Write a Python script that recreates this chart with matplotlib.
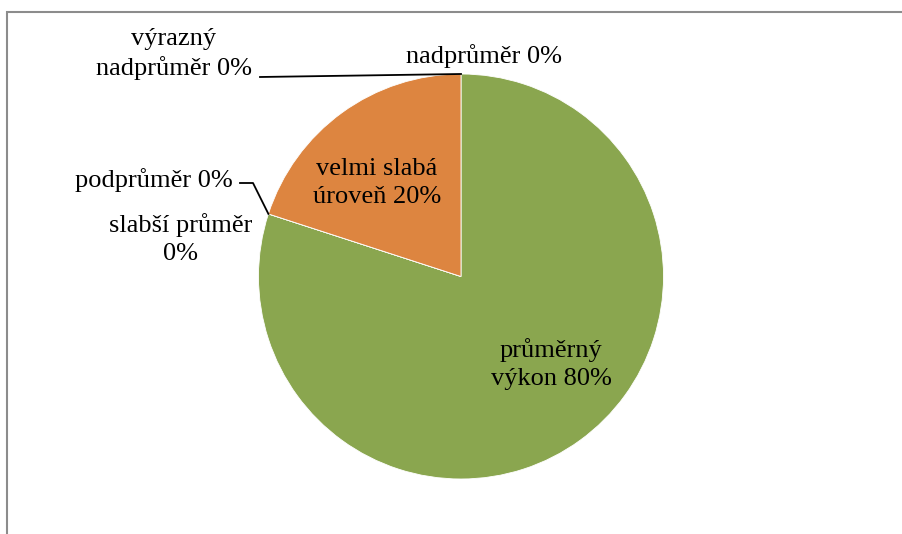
import numpy as np
import matplotlib.pyplot as plt
from matplotlib.patches import Rectangle

categories = ['výrazný nadprůměr', 'nadprůměr', 'průměrný výkon',
              'slabší průměr', 'podprůměr', 'velmi slabá úroveň']
values = [0, 0, 80, 0, 0, 20]
colors = ['#4f81bd', '#c0504d', '#8aa64f', '#8064a2', '#4bacc6', '#dd8540']

plt.rcParams['font.family'] = ['Liberation Serif', 'DejaVu Serif']

W, H = 902, 534
fig = plt.figure(figsize=(W / 100, H / 100), dpi=100)
ax = fig.add_axes([0, 0, 1, 1])

# pie in pixel coordinates (y up)
cx, cy, r = 461, H - 276.5, 202.5
wedges, _ = ax.pie(values, colors=colors, startangle=90, counterclock=False,
                   center=(cx, cy), radius=r, frame=True,
                   wedgeprops=dict(linewidth=0.6, edgecolor='white'))
ax.set_xlim(0, W)
ax.set_ylim(0, H)
ax.set_aspect('equal')
ax.axis('off')

def anchor(i):
    th = np.deg2rad(wedges[i].theta1)
    return cx + r * np.cos(th), cy + r * np.sin(th)

fs = 19
ls = 1.32
labels = [f'{c} {v}%' for c, v in zip(categories, values)]

# výrazný nadprůměr
ax.text(174, H - 54, 'výrazný\nnadprůměr 0%', ha='center', va='center',
        fontsize=fs, linespacing=ls)
x0, y0 = anchor(0)
ax.plot([260, x0], [H - 77, y0], color='black', lw=1.3)

# nadprůměr
ax.text(484, H - 56, labels[1], ha='center', va='center', fontsize=fs)

# průměrný výkon
ax.text(551, H - 364, 'průměrný\nvýkon 80%', ha='center', va='center',
        fontsize=fs, linespacing=ls)

# slabší průměr
ax.text(181, H - 239, 'slabší průměr\n0%', ha='center', va='center',
        fontsize=fs, linespacing=ls)

# podprůměr
ax.text(154, H - 180, labels[4], ha='center', va='center', fontsize=fs)
x4, y4 = anchor(4)
ax.plot([240, 253, x4], [H - 183, H - 183, y4], color='black', lw=1.3)

# velmi slabá úroveň
ax.text(377, H - 183, 'velmi slabá\núroveň 20%', ha='center', va='center',
        fontsize=fs, linespacing=ls)

# chart frame
fig.patches.append(Rectangle((7 / W, -0.1), 1.2, (H - 12) / H + 0.1,
                             transform=fig.transFigure, fill=False,
                             edgecolor='#8c8c8c', lw=1.5))

fig.savefig('out.png', dpi=100)
